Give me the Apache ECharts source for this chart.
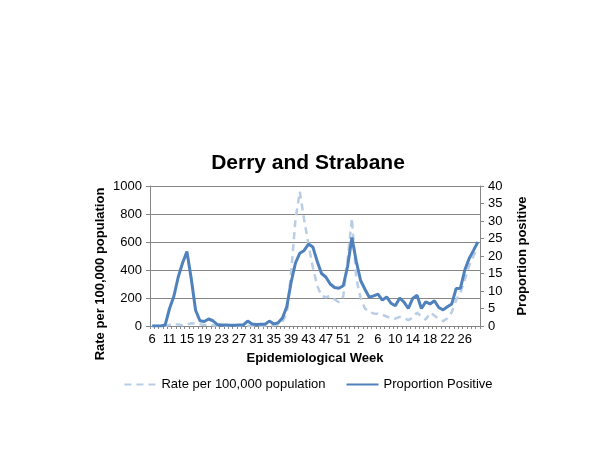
<!DOCTYPE html>
<html>
<head>
<meta charset="utf-8">
<title>Derry and Strabane</title>
<script src="https://cdn.jsdelivr.net/npm/echarts@6/dist/echarts.min.js"></script>
<style>
  html, body { margin: 0; padding: 0; background: #fff; }
  #chart { width: 616px; height: 454px; }
</style>
</head>
<body>
<div id="chart"></div>
<script>
// epidemiological weeks (2020 wk 6 .. 2021 wk 29)
var weeks = ['6', '8', '9', '10', '11', '12', '13', '14', '15', '16', '17', '18', '19', '20',
  '21', '22', '23', '24', '25', '26', '27', '28', '29', '30', '31', '32', '33', '34', '35',
  '36', '37', '38', '39', '40', '41', '42', '43', '44', '45', '46', '47', '48', '49', '50',
  '51', '52', '53', '1', '2', '3', '4', '5', '6', '7', '8', '9', '10', '11', '12', '13',
  '14', '15', '16', '17', '18', '19', '20', '21', '22', '23', '24', '25', '26', '27', '28', '29'];

// rate per 100,000 population (left axis)
var ratePer100k = [0, 0, 0, 0, 8, 15, 10, 5, 12, 20, 18, 12, 8, 10, 5, 2, 1, 1, 1, 1,
  1, 1, 2, 2, 2, 2, 3, 3, 5, 10, 30, 90, 380, 760, 960, 760, 580, 420, 290, 215,
  205, 215, 190, 170, 210, 470, 770, 340, 200, 125, 100, 90, 88, 80, 68, 55, 52, 65, 55, 42,
  60, 95, 70, 45, 95, 75, 50, 35, 55, 100, 185, 240, 330, 430, 500, 560];

// proportion positive, % (right axis)
var propPositive = [0, 0, 0, 0.3, 5, 8.5, 14, 18, 21.3, 13.5, 4.5, 1.5, 1.3, 2, 1.5, 0.4, 0.3, 0.3, 0.2, 0.2,
  0.3, 0.3, 1.4, 0.6, 0.4, 0.5, 0.5, 1.4, 0.6, 0.9, 2.3, 5.5, 12.5, 18, 20.8, 21.6, 23.4, 22.6, 18.5, 15,
  14, 12, 11, 10.8, 11.5, 17, 25.3, 18.5, 13, 10.5, 8.2, 8.6, 9.1, 7.4, 8.3, 6.5, 5.8, 8, 6.8, 5,
  7.9, 8.8, 5, 6.9, 6.3, 7.2, 5.3, 4.6, 5.5, 6.3, 10.7, 10.8, 16, 19.3, 21.6, 24];

var font = "'Liberation Sans', Arial, sans-serif";
var axisGrey = '#868686';

var myChart = echarts.init(document.getElementById('chart'));
myChart.setOption({
  animation: false,
  backgroundColor: '#fff',
  title: {
    text: 'Derry and Strabane',
    left: 'center',
    top: 148,
    textStyle: { fontFamily: font, fontSize: 21, fontWeight: 'bold', color: '#000' },
  },
  legend: {
    left: 'center',
    top: 373,
    itemWidth: 32,
    itemHeight: 12,
    itemGap: 20,
    itemStyle: { opacity: 0 },
    textStyle: { fontFamily: font, fontSize: 13, color: '#000' },
    data: ['Rate per 100,000 population', 'Proportion Positive'],
  },
  grid: {
    left: 150,
    right: 136,
    top: 186,
    bottom: 128,
  },
  xAxis: {
    type: 'category',
    data: weeks,
    boundaryGap: true,
    name: 'Epidemiological Week',
    nameLocation: 'middle',
    nameGap: 26,
    nameTextStyle: { fontFamily: font, fontSize: 13, fontWeight: 'bold', color: '#000' },
    axisLine: { lineStyle: { color: axisGrey } },
    axisTick: { show: true, interval: 0, length: 3, lineStyle: { color: axisGrey } },
    axisLabel: { interval: 3, margin: 7, fontFamily: font, fontSize: 13, color: '#000' },
  },
  yAxis: [
    {
      type: 'value',
      min: 0,
      max: 1000,
      interval: 200,
      name: 'Rate per 100,000 population',
      nameLocation: 'middle',
      nameGap: 43,
      nameMoveOverlap: false,
      nameTextStyle: {
        fontFamily: font, fontSize: 13, fontWeight: 'bold', color: '#000',
        padding: [0, 36, 0, 0],
      },
      axisLine: { show: true, lineStyle: { color: axisGrey } },
      axisTick: { show: true, length: 4, lineStyle: { color: axisGrey } },
      axisLabel: {
        margin: 8, fontFamily: font, fontSize: 13, color: '#000',
        formatter: function (v) { return String(v); },
      },
      splitLine: { lineStyle: { color: axisGrey, width: 1 } },
    },
    {
      type: 'value',
      min: 0,
      max: 40,
      interval: 5,
      name: 'Proportion positive',
      nameLocation: 'middle',
      nameGap: 36,
      nameTextStyle: { fontFamily: font, fontSize: 13, fontWeight: 'bold', color: '#000' },
      axisLine: { show: true, lineStyle: { color: axisGrey } },
      axisTick: { show: true, length: 4, lineStyle: { color: axisGrey } },
      axisLabel: { margin: 8, fontFamily: font, fontSize: 13, color: '#000' },
      splitLine: { show: false },
    },
  ],
  series: [
    {
      name: 'Rate per 100,000 population',
      type: 'line',
      yAxisIndex: 0,
      data: ratePer100k,
      symbol: 'none',
      itemStyle: { color: '#B9CDE5' },
      lineStyle: { color: '#B9CDE5', width: 2.5, type: [7, 5] },
      z: 2,
    },
    {
      name: 'Proportion Positive',
      type: 'line',
      yAxisIndex: 1,
      data: propPositive,
      symbol: 'none',
      itemStyle: { color: '#4F81BD' },
      lineStyle: { color: '#4F81BD', width: 3 },
      z: 3,
    },
  ],
});
</script>
</body>
</html>
